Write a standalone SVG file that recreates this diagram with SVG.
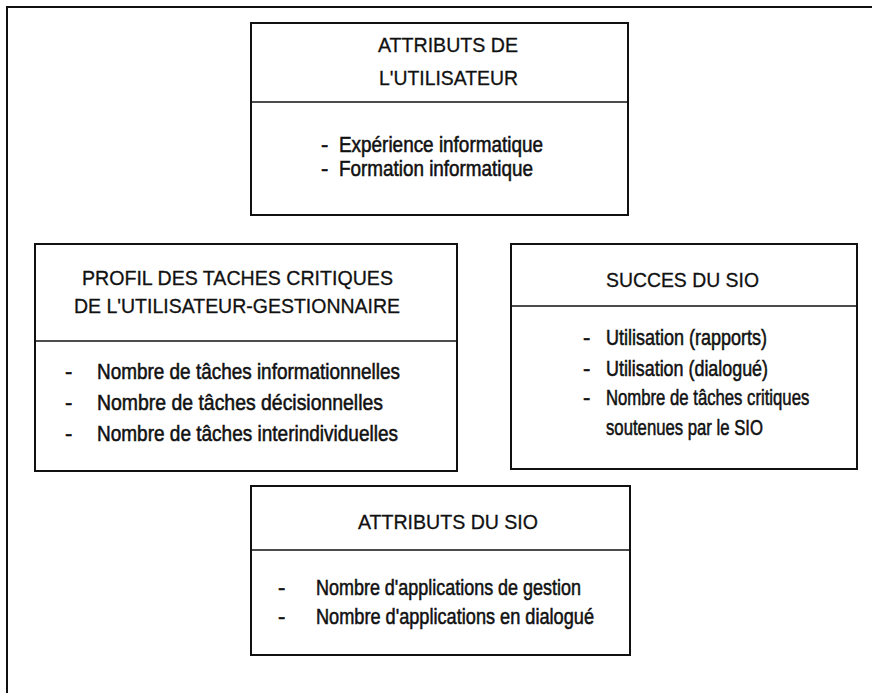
<svg xmlns="http://www.w3.org/2000/svg" width="872" height="693" viewBox="0 0 872 693">
<style>
.box{fill:none;stroke:#111;stroke-width:2}
.rule{stroke:#111;stroke-width:1.6}
.frame{fill:none;stroke:#111;stroke-width:2}
text{font-family:"Liberation Sans",Arial,sans-serif;fill:#111;stroke:#111}
.t{font-size:21px;stroke-width:0.3}
.i{font-size:22px;stroke-width:0.55}
</style>
<rect width="872" height="693" fill="#fff"/>
<g id="frame"><path class="frame" d="M7,693 V7 H872"/></g>
<g id="connectors"></g>
<g id="user-attributes">
<rect class="box" x="251" y="23" width="377" height="192"/>
<line class="rule" x1="251" y1="102" x2="628" y2="102"/>
<text class="t" x="378" y="52" textLength="140" lengthAdjust="spacingAndGlyphs">ATTRIBUTS DE</text>
<text class="t" x="379" y="85" textLength="139" lengthAdjust="spacingAndGlyphs">L'UTILISATEUR</text>
<text class="i" x="321" y="152">-</text>
<text class="i" x="339" y="152" textLength="204" lengthAdjust="spacingAndGlyphs">Expérience informatique</text>
<text class="i" x="321" y="176">-</text>
<text class="i" x="339" y="176" textLength="194" lengthAdjust="spacingAndGlyphs">Formation informatique</text>
</g>
<g id="task-profile">
<rect class="box" x="35" y="244" width="422" height="227"/>
<line class="rule" x1="35" y1="341" x2="457" y2="341"/>
<text class="t" x="82" y="285" textLength="311" lengthAdjust="spacingAndGlyphs">PROFIL DES TACHES CRITIQUES</text>
<text class="t" x="74" y="313" textLength="326" lengthAdjust="spacingAndGlyphs">DE L'UTILISATEUR-GESTIONNAIRE</text>
<text class="i" x="65" y="379">-</text>
<text class="i" x="97" y="379" textLength="303" lengthAdjust="spacingAndGlyphs">Nombre de tâches informationnelles</text>
<text class="i" x="65" y="410">-</text>
<text class="i" x="97" y="410" textLength="286" lengthAdjust="spacingAndGlyphs">Nombre de tâches décisionnelles</text>
<text class="i" x="65" y="441">-</text>
<text class="i" x="97" y="441" textLength="301" lengthAdjust="spacingAndGlyphs">Nombre de tâches interindividuelles</text>
</g>
<g id="sio-success">
<rect class="box" x="511" y="244" width="346" height="225"/>
<line class="rule" x1="511" y1="306" x2="857" y2="306"/>
<text class="t" x="606" y="287" textLength="153" lengthAdjust="spacingAndGlyphs">SUCCES DU SIO</text>
<text class="i" x="583" y="345">-</text>
<text class="i" x="606" y="345" textLength="161" lengthAdjust="spacingAndGlyphs">Utilisation (rapports)</text>
<text class="i" x="583" y="376">-</text>
<text class="i" x="606" y="376" textLength="162" lengthAdjust="spacingAndGlyphs">Utilisation (dialogué)</text>
<text class="i" x="583" y="405">-</text>
<text class="i" transform="translate(606,405) scale(0.76,1)" x="0" y="0">Nombre de tâches critiques</text>
<text class="i" x="606" y="435" textLength="157" lengthAdjust="spacingAndGlyphs">soutenues par le SIO</text>
</g>
<g id="sio-attributes">
<rect class="box" x="251" y="486" width="379" height="169"/>
<line class="rule" x1="251" y1="550" x2="630" y2="550"/>
<text class="t" x="358" y="529" textLength="180" lengthAdjust="spacingAndGlyphs">ATTRIBUTS DU SIO</text>
<text class="i" x="278" y="595">-</text>
<text class="i" x="316" y="595" textLength="265" lengthAdjust="spacingAndGlyphs">Nombre d'applications de gestion</text>
<text class="i" x="278" y="624">-</text>
<text class="i" x="316" y="624" textLength="278" lengthAdjust="spacingAndGlyphs">Nombre d'applications en dialogué</text>
</g>
</svg>
